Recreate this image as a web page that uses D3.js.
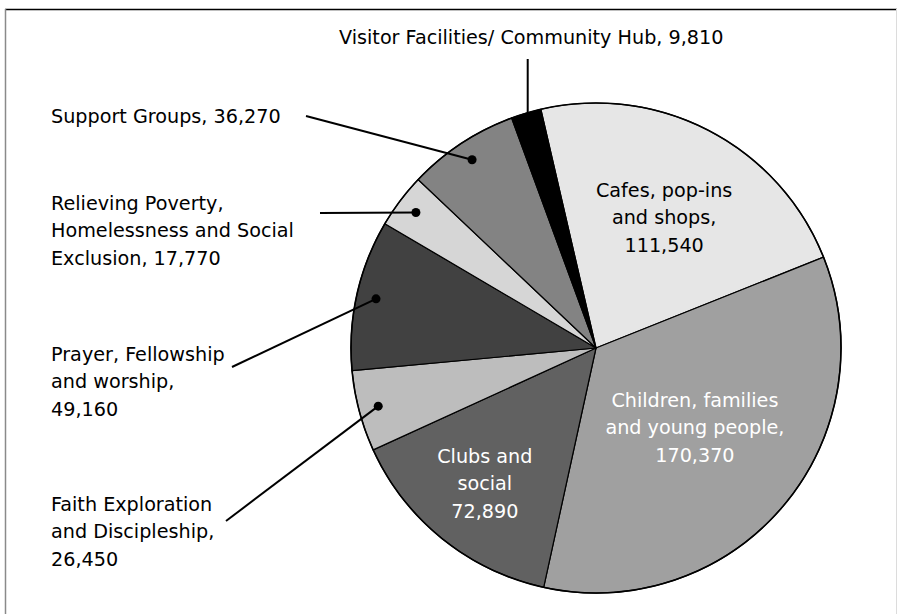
<!DOCTYPE html>
<html>
<head>
<meta charset="utf-8">
<script src="https://cdn.jsdelivr.net/npm/d3@7"></script>
<style>
  html, body { margin: 0; padding: 0; background: #fff; }
  svg { display: block; }
  text { font-family: "DejaVu Sans", sans-serif; font-size: 19.2px; }
</style>
</head>
<body>
<div id="chart"></div>
<script>
// slice data, clockwise from the first slice
const categories = [
  "Cafes, pop-ins and shops",
  "Children, families and young people",
  "Clubs and social",
  "Faith Exploration and Discipleship",
  "Prayer, Fellowship and worship",
  "Relieving Poverty, Homelessness and Social Exclusion",
  "Support Groups",
  "Visitor Facilities/ Community Hub"
];
const values = [111540, 170370, 72890, 26450, 49160, 17770, 36270, 9810];
// label lines, {v} is replaced by the formatted value
const labelLines = [
  ["Cafes, pop-ins", "and shops,", "{v}"],
  ["Children, families", "and young people,", "{v}"],
  ["Clubs and", "social", "{v}"],
  ["Faith Exploration", "and Discipleship,", "{v}"],
  ["Prayer, Fellowship", "and worship,", "{v}"],
  ["Relieving Poverty,", "Homelessness and Social", "Exclusion, {v}"],
  ["Support Groups, {v}"],
  ["Visitor Facilities/ Community Hub, {v}"]
];
const fills = ["#e6e6e6", "#a0a0a0", "#616161", "#bdbdbd", "#414141", "#d6d6d6", "#838383", "#000000"];

const width = 897, height = 614;
const cx = 596, cy = 348, r = 245;
const lineH = 27.5;
const fmt = d3.format(",");

// where each label sits
const layout = [
  { inside: true, rho: 0.6, off: [0, 0], color: "#000" },
  { inside: true, rho: 0.54, off: [-2, -6], color: "#fff" },
  { inside: true, rho: 0.71, off: [-2, 0], color: "#fff" },
  { x: 51, y: 504, lead: [226, 521] },
  { x: 51, y: 354, lead: [232, 367] },
  { x: 51, y: 203, lead: [320, 213] },
  { x: 51, y: 116, lead: [306, 116] },
  { x: 339, y: 37, lead: null }
];

const svg = d3.select("#chart").append("svg")
  .attr("width", width)
  .attr("height", height);

// frame
svg.append("line").attr("x1", 5).attr("x2", 897).attr("y1", 9.5).attr("y2", 9.5)
  .attr("stroke", "#000").attr("stroke-width", 1.5);
svg.append("line").attr("x1", 5.5).attr("x2", 5.5).attr("y1", 9).attr("y2", 614)
  .attr("stroke", "#8a8a8a").attr("stroke-width", 1.5);
svg.append("line").attr("x1", 896.5).attr("x2", 896.5).attr("y1", 9).attr("y2", 614)
  .attr("stroke", "#dcdcdc").attr("stroke-width", 1);

const start = -13 * Math.PI / 180;
const pie = d3.pie().sort(null).value(d => d.value)
  .startAngle(start).endAngle(start + 2 * Math.PI);

const data = categories.map((c, i) => ({ name: c, value: values[i], i }));
const arcs = pie(data);

const arc = d3.arc().innerRadius(0).outerRadius(r);

const g = svg.append("g").attr("transform", `translate(${cx},${cy})`);

g.selectAll("path.slice")
  .data(arcs)
  .enter().append("path")
  .attr("class", "slice")
  .attr("d", arc)
  .attr("fill", d => fills[d.data.i])
  .attr("stroke", "#000")
  .attr("stroke-width", 1.2)
  .attr("stroke-linejoin", "round");

g.append("circle")
  .attr("r", r)
  .attr("fill", "none")
  .attr("stroke", "#000")
  .attr("stroke-width", 1.6);

function lines(i) {
  return labelLines[i].map(s => s.replace("{v}", fmt(values[i])));
}

arcs.forEach(a => {
  const i = a.data.i;
  const L = layout[i];
  const mid = (a.startAngle + a.endAngle) / 2;
  const txt = lines(i);

  if (L.inside) {
    const px = cx + L.rho * r * Math.sin(mid) + L.off[0];
    const py = cy - L.rho * r * Math.cos(mid) + L.off[1];
    const t = svg.append("text")
      .attr("text-anchor", "middle")
      .attr("fill", L.color);
    txt.forEach((s, k) => {
      t.append("tspan")
        .attr("x", px)
        .attr("y", py + (k - (txt.length - 1) / 2) * lineH)
        .attr("dy", "0.35em")
        .text(s);
    });
    return;
  }

  // dot on the slice and leader line
  const dr = 0.92 * r;
  let dx = cx + dr * Math.sin(mid);
  let dy = cy - dr * Math.cos(mid);
  if (!L.lead) { dx -= 4; }
  const from = L.lead ? L.lead : [dx, 59];
  svg.append("line")
    .attr("x1", from[0]).attr("y1", from[1])
    .attr("x2", dx).attr("y2", dy)
    .attr("stroke", "#000")
    .attr("stroke-width", 2);
  svg.append("circle")
    .attr("cx", dx).attr("cy", dy)
    .attr("r", 4.5)
    .attr("fill", "#000");

  const t = svg.append("text").attr("fill", "#000");
  txt.forEach((s, k) => {
    t.append("tspan")
      .attr("x", L.x)
      .attr("y", L.y + k * lineH)
      .attr("dy", "0.35em")
      .text(s);
  });
});
</script>
</body>
</html>
